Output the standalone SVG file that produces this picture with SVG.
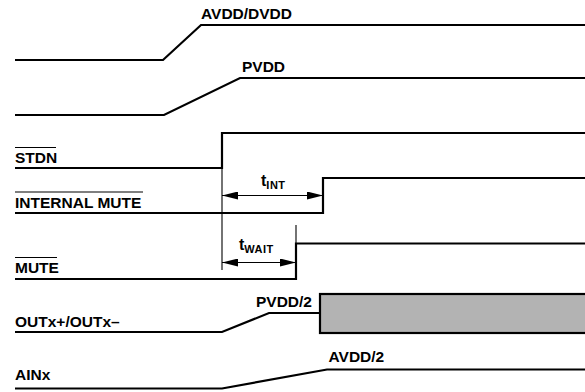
<svg xmlns="http://www.w3.org/2000/svg" width="585" height="392" viewBox="0 0 585 392">
<style>
.sig{fill:none;stroke:#000;stroke-width:2.2;stroke-linejoin:miter}
.thin{fill:none;stroke:#000;stroke-width:1.1}
.lbl{font-family:"Liberation Sans",Arial,sans-serif;font-weight:bold;font-size:15.5px;fill:#000}
.t{font-family:"Liberation Sans",Arial,sans-serif;font-weight:bold;font-size:16px;fill:#000}
.sub{font-size:11px;letter-spacing:0.5px}
.box{fill:#b3b3b3;stroke:#000;stroke-width:2.2}
</style>
<defs>
<marker id="ah" viewBox="0 0 16 8" refX="16" refY="4" markerWidth="16" markerHeight="8" markerUnits="userSpaceOnUse" orient="auto-start-reverse">
<path d="M0,0 L16,4 L0,8 Z" fill="#000"/>
</marker>
</defs>
<rect width="585" height="392" fill="#fff"/>
<g id="avdd">
<polyline class="sig" points="15,60 163,60 201,25 590,25"/>
<text class="lbl" x="201" y="19">AVDD/DVDD</text>
</g>
<g id="pvdd">
<polyline class="sig" points="15,115 164,115 240,78 590,78"/>
<text class="lbl" x="242" y="72">PVDD</text>
</g>
<g id="stdn">
<polyline class="sig" points="15,168 222,168 222,133 590,133"/>
<text class="lbl" x="15" y="162.5">STDN</text>
<line class="thin" x1="15" y1="147.5" x2="56" y2="147.5"/>
</g>
<g id="internal-mute">
<polyline class="sig" points="15,213 323,213 323,178 590,178"/>
<text class="lbl" x="15" y="207.5">INTERNAL MUTE</text>
<line class="thin" x1="15" y1="192" x2="143" y2="192"/>
</g>
<g id="mute">
<polyline class="sig" points="15,279 296,279 296,243.5 590,243.5"/>
<text class="lbl" x="15" y="272.5">MUTE</text>
<line class="thin" x1="15" y1="257.5" x2="57" y2="257.5"/>
</g>
<g id="outx">
<polyline class="sig" points="15,332 222,332 269,313 321,313"/>
<rect class="box" x="320" y="294" width="275" height="39"/>
<text class="lbl" x="15" y="327">OUTx+/OUTx–</text>
<text class="lbl" x="256" y="306.5">PVDD/2</text>
</g>
<g id="ainx">
<polyline class="sig" points="15,388.5 222,388.5 327,369.5 590,369.5"/>
<text class="lbl" x="15" y="380">AINx</text>
<text class="lbl" x="328.5" y="362">AVDD/2</text>
</g>
<g id="connectors">
<line class="thin" x1="222" y1="168" x2="222" y2="270"/>
<line class="thin" x1="296" y1="243.5" x2="296" y2="225"/>
<line class="thin" x1="222" y1="195.5" x2="323" y2="195.5" marker-start="url(#ah)" marker-end="url(#ah)"/>
<line class="thin" x1="222" y1="262.5" x2="296" y2="262.5" marker-start="url(#ah)" marker-end="url(#ah)"/>
<text class="t" x="261" y="186">t<tspan class="sub" dy="3">INT</tspan></text>
<text class="t" x="239" y="250">t<tspan class="sub" dy="3">WAIT</tspan></text>
</g>
</svg>
